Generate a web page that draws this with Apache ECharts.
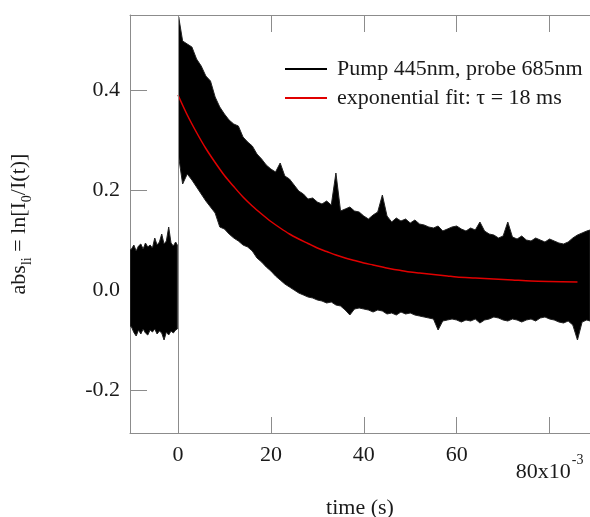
<!DOCTYPE html>
<html><head><meta charset="utf-8">
<script src="https://cdn.jsdelivr.net/npm/echarts@6/dist/echarts.min.js"></script>
<style>html,body{margin:0;padding:0;background:#fff}#c{width:590px;height:517px}</style>
</head><body><div id="c"></div>
<script>
// tick labels
const xTicks = [0, 20, 40, 60, 80];
const yTicks = [-0.2, 0, 0.2, 0.4];
// noise band before t = 0 (time in ms, envelope)
const preT = [-10.3,-10,-9.5,-9,-8.5,-8,-7.5,-7,-6.5,-6,-5.5,-5,-4.5,-4,-3.5,-3,-2.5,-2,-1.5,-1,-0.5,-0.15];
const preUpper = [0.080,0.082,0.090,0.078,0.088,0.092,0.082,0.094,0.086,0.090,0.084,0.104,0.090,0.096,0.112,0.092,0.098,0.126,0.094,0.088,0.096,0.090];
const preLower = [-0.072,-0.074,-0.085,-0.092,-0.080,-0.088,-0.078,-0.086,-0.090,-0.080,-0.084,-0.078,-0.088,-0.082,-0.086,-0.100,-0.084,-0.090,-0.082,-0.086,-0.080,-0.078];
// noise band after t = 0
const postT = [0.15,1,2,3,4,5,6,7,8,9,10,11,12,13,14,15,16,17,18,19,20,21,22,23,24,25,26,27,28,29,
  30,31,32,33,34,35,36,37,38,39,40,41,42,43,44,45,46,47,48,49,50,51,52,53,54,55,56,57,58,59,
  60,61,62,63,64,65,66,67,68,69,70,71,72,73,74,75,76,77,78,79,80,81,82,83,84,85,86,87,88,88.7];
const postUpper = [0.546,0.498,0.492,0.486,0.462,0.448,0.428,0.418,0.386,0.366,
  0.352,0.340,0.332,0.328,0.306,0.296,0.288,0.272,0.262,0.250,
  0.242,0.236,0.254,0.228,0.222,0.210,0.198,0.192,0.182,0.184,
  0.176,0.172,0.178,0.170,0.234,0.158,0.162,0.166,0.158,0.156,
  0.148,0.142,0.150,0.156,0.190,0.148,0.136,0.144,0.138,0.142,
  0.134,0.140,0.132,0.130,0.126,0.124,0.128,0.118,0.122,0.126,
  0.128,0.122,0.118,0.124,0.120,0.136,0.118,0.112,0.110,0.104,
  0.108,0.136,0.106,0.102,0.108,0.100,0.098,0.104,0.100,0.096,
  0.102,0.098,0.094,0.092,0.096,0.104,0.110,0.114,0.118,0.120];
const postLower = [0.266,0.212,0.232,0.220,0.206,0.192,0.178,0.166,0.154,0.126,
  0.122,0.112,0.104,0.098,0.090,0.086,0.078,0.064,0.056,0.046,
  0.038,0.028,0.020,0.012,0.006,0.000,-0.006,-0.010,-0.014,-0.016,
  -0.020,-0.022,-0.026,-0.024,-0.030,-0.032,-0.040,-0.050,-0.038,-0.036,
  -0.038,-0.040,-0.044,-0.040,-0.042,-0.048,-0.046,-0.050,-0.044,-0.048,
  -0.046,-0.050,-0.052,-0.054,-0.056,-0.058,-0.080,-0.062,-0.060,-0.058,
  -0.060,-0.064,-0.060,-0.062,-0.058,-0.066,-0.060,-0.058,-0.054,-0.056,
  -0.060,-0.062,-0.058,-0.060,-0.064,-0.060,-0.058,-0.062,-0.056,-0.054,
  -0.058,-0.060,-0.064,-0.066,-0.062,-0.070,-0.100,-0.064,-0.060,-0.062];
// exponential fit (red)
const fitT = [0,2,4,6,8,10,12,14,16,18,20,22,24,26,28,30,32,34,36,38,40,42,44,46,48,50,52,54,56,58,60,64,68,72,76,80,86];
const fitY = [0.390,0.350,0.315,0.283,0.255,0.229,0.207,0.186,0.168,0.152,0.137,0.124,0.112,0.102,0.093,0.084,0.077,0.070,0.064,0.059,0.054,0.050,0.046,0.042,0.039,0.036,0.034,0.032,0.030,0.028,0.026,0.024,0.022,0.020,0.018,0.017,0.016];

const seriesNames = ['Pump 445nm, probe 685nm', 'exponential fit: \u03c4 = 18 ms'];

const FONT = 'Liberation Serif';
const TXT = '#1a1a1a';
const AX = '#8c8c8c';

const bands = [[preT, preUpper, preLower], [postT, postUpper, postLower]];

const chart = echarts.init(document.getElementById('c'), null, {renderer: 'canvas'});
chart.setOption({
  animation: false,
  backgroundColor: '#fff',
  grid: {left: 130, top: 15, right: 0, bottom: 84, containLabel: false, outerBoundsMode: 'none'},
  legend: {
    orient: 'vertical', left: 280, top: 52, itemWidth: 42, itemHeight: 2, itemGap: 5,
    textStyle: {fontFamily: FONT, fontSize: 22, color: TXT, lineHeight: 24, padding: [0, 0, 0, 5]},
    data: [{name: seriesNames[0], icon: 'rect'}, {name: seriesNames[1], icon: 'rect'}]
  },
  xAxis: [{
    type: 'value', min: -10.33, max: 88.7, position: 'bottom',
    axisLine: {show: true, onZero: false, lineStyle: {color: AX, width: 1}},
    axisTick: {show: true, inside: true, length: 16, lineStyle: {color: AX}, customValues: xTicks},
    splitLine: {show: false},
    axisLabel: {
      margin: 11, customValues: xTicks,
      formatter: v => v === 80 ? '{b|80x10}{s|-3}' : '{n|' + v + '}',
      rich: {
        n: {fontFamily: FONT, fontSize: 22, lineHeight: 22, color: TXT, verticalAlign: 'top'},
        b: {fontFamily: FONT, fontSize: 22, lineHeight: 22, color: TXT, verticalAlign: 'top', padding: [17, 0, 0, 0]},
        s: {fontFamily: FONT, fontSize: 14, lineHeight: 14, color: TXT, verticalAlign: 'top', padding: [9, 0, 0, 1]}
      }
    },
    name: 'time (s)', nameLocation: 'middle', nameGap: 64,
    nameTextStyle: {fontFamily: FONT, fontSize: 22, color: TXT}
  }, {
    type: 'value', min: -10.33, max: 88.7, position: 'top',
    axisLine: {show: true, onZero: false, lineStyle: {color: AX, width: 1}},
    axisTick: {show: true, inside: true, length: 17, lineStyle: {color: AX}, customValues: xTicks},
    axisLabel: {show: false, customValues: xTicks},
    splitLine: {show: false}
  }],
  yAxis: [{
    type: 'value', min: -0.286, max: 0.55, position: 'left',
    axisLine: {show: true, onZero: false, lineStyle: {color: AX, width: 1}},
    axisTick: {show: true, inside: true, length: 17, lineStyle: {color: AX}, customValues: yTicks},
    splitLine: {show: false},
    axisLabel: {margin: 10, customValues: yTicks, fontFamily: FONT, fontSize: 22, color: TXT,
      formatter: v => v.toFixed(1)},
    name: '{m|abs}{s|li}{m| = ln[I}{s|0}{m|/I(t)]}', nameLocation: 'middle', nameGap: 96, nameRotate: 90,
    nameTextStyle: {
      fontFamily: FONT, fontSize: 22, color: TXT,
      rich: {
        m: {fontFamily: FONT, fontSize: 22, lineHeight: 26, color: TXT, verticalAlign: 'top'},
        s: {fontFamily: FONT, fontSize: 14, lineHeight: 14, color: TXT, verticalAlign: 'top', padding: [12, 0, 0, 0]}
      }
    }
  }],
  series: [{
    name: seriesNames[0],
    type: 'custom',
    clip: true,
    itemStyle: {color: '#000'},
    data: [[-5, 0], [40, 0]],
    encode: {x: 0, y: 1},
    renderItem: function (params, api) {
      const b = bands[params.dataIndex];
      const T = b[0], U = b[1], L = b[2];
      const pts = [];
      for (let i = 0; i < T.length; i++) pts.push(api.coord([T[i], U[i]]));
      for (let i = T.length - 1; i >= 0; i--) pts.push(api.coord([T[i], L[i]]));
      return {type: 'polygon', shape: {points: pts}, style: {fill: '#000', stroke: '#222', lineWidth: 1}};
    },
    z: 2
  }, {
    name: seriesNames[1],
    type: 'line',
    data: fitT.map((t, i) => [t, fitY[i]]),
    showSymbol: false, symbol: 'none',
    smooth: 0.3,
    lineStyle: {color: '#e00000', width: 1.5},
    itemStyle: {color: '#e00000'},
    z: 3,
    markLine: {
      silent: true, symbol: ['none', 'none'], label: {show: false},
      lineStyle: {color: AX, type: 'solid', width: 1},
      data: [{xAxis: 0}]
    }
  }]
});
</script></body></html>
